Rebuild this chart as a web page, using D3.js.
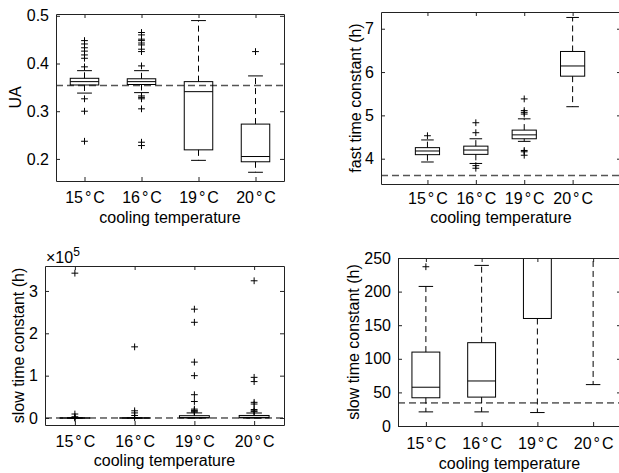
<!DOCTYPE html>
<html>
<head>
<meta charset="utf-8">
<script src="https://cdn.jsdelivr.net/npm/d3@7"></script>
<style>
  body { margin: 0; background: #fff; }
  svg { display: block; font-family: "Liberation Sans", Arial, sans-serif; }
</style>
</head>
<body>
<svg id="chart" width="619" height="473"></svg>
<script>
// categories shared by all four panels
const categories = ["15°C", "16°C", "19°C", "20°C"];

// UA
const uaLow    = [0.338, 0.339, 0.197, 0.172];
const uaQ1     = [0.355, 0.356, 0.219, 0.194];
const uaMedian = [0.362, 0.362, 0.341, 0.205];
const uaQ3     = [0.369, 0.368, 0.362, 0.273];
const uaHigh   = [0.385, 0.385, 0.490, 0.374];
const uaOutliers = [
  [0.448, 0.441, 0.433, 0.426, 0.418, 0.411, 0.393, 0.326, 0.300, 0.237],
  [0.465, 0.460, 0.451, 0.448, 0.443, 0.439, 0.430, 0.425, 0.395, 0.332, 0.329, 0.326, 0.305, 0.235, 0.228],
  [],
  [0.425]
];
const uaRef = 0.354;
const uaTicks = [0.2, 0.3, 0.4, 0.5];

// fast time constant (h)
const fastLow    = [3.924, 3.89, 4.40, 5.20];
const fastQ1     = [4.093, 4.10, 4.46, 5.905];
const fastMedian = [4.178, 4.20, 4.55, 6.14];
const fastQ3     = [4.255, 4.29, 4.66, 6.475];
const fastHigh   = [4.433, 4.46, 4.92, 7.26];
const fastOutliers = [
  [4.53],
  [4.83, 4.60, 3.84, 3.78],
  [5.38, 5.11, 5.07, 5.03, 4.19, 4.16, 4.08],
  []
];
const fastRef = 3.615;
const fastTicks = [4, 5, 6, 7];

// slow time constant (h), shown twice: full range and zoomed to 0-250
const slowLow    = [21, 21, 20, 61.6];
const slowQ1     = [42, 43, 160, 320];
const slowMedian = [57.7, 67, 900, 1500];
const slowQ3     = [110, 124, 5500, 6000];
const slowHigh   = [207.7, 239, 12000, 11800];
const slowOutliers = [
  [237, 500, 3000, 9400, 342000],
  [1000, 6000, 12000, 17000, 168000],
  [14000, 16000, 18000, 21000, 39000, 55000, 100000, 132000, 226000, 257000],
  [15000, 17000, 20000, 33000, 37000, 86000, 96000, 324000]
];
const slowRef = 34.3;
const slowTicksFull = [0, 100000, 200000, 300000];
const slowTicksZoom = [0, 50, 100, 150, 200, 250];

const svg = d3.select("#chart");
const fontSize = 16;
const tickLen = 4;

const panels = [
  { id: "ua", left: 56, right: 284, top: 14, bottom: 181,
    xDomain: [0.5, 4.5], yDomain: [0.1537, 0.5038],
    ticks: uaTicks, fmt: d3.format(".1f"), yLabel: "UA",
    lo: uaLow, q1: uaQ1, med: uaMedian, q3: uaQ3, hi: uaHigh, out: uaOutliers,
    ref: uaRef, refColor: "#555", refWidth: 1.5,
    tickBase: 203.3, labelBase: 223.3, yLabelX: 15.3 },
  { id: "fast", left: 381, right: 621, top: 12, bottom: 184,
    xDomain: [0.04, 5], yDomain: [3.416, 7.386],
    ticks: fastTicks, fmt: d3.format("d"), yLabel: "fast time constant (h)",
    lo: fastLow, q1: fastQ1, med: fastMedian, q3: fastQ3, hi: fastHigh, out: fastOutliers,
    ref: fastRef, refColor: "#555", refWidth: 1.5,
    tickBase: 204, labelBase: 223.3, yLabelX: 355.7 },
  { id: "slowfull", left: 45, right: 284, top: 266, bottom: 425,
    xDomain: [0.5, 4.5], yDomain: [-16500, 358900],
    ticks: slowTicksFull, fmt: d => d / 1e5, yLabel: "slow time constant (h)",
    lo: slowLow, q1: slowQ1, med: slowMedian, q3: slowQ3, hi: slowHigh, out: slowOutliers,
    ref: slowRef, refColor: "#000", refWidth: 1,
    tickBase: 446.7, labelBase: 466, yLabelX: 18.3, exponent: true },
  { id: "slowzoom", left: 398, right: 621, top: 258, bottom: 426,
    xDomain: [0.5, 4.5], yDomain: [0, 250],
    ticks: slowTicksZoom, fmt: d3.format("d"), yLabel: "slow time constant (h)",
    lo: slowLow, q1: slowQ1, med: slowMedian, q3: slowQ3, hi: slowHigh, out: slowOutliers,
    ref: slowRef, refColor: "#000", refWidth: 1,
    tickBase: 448.5, labelBase: 469, yLabelX: 353.3 }
];

function drawPanel(p) {
  const x = d3.scaleLinear().domain(p.xDomain).range([p.left, p.right]);
  const y = d3.scaleLinear().domain(p.yDomain).range([p.bottom, p.top]);
  const cats = d3.range(categories.length);

  svg.append("clipPath").attr("id", "clip-" + p.id)
    .append("rect")
    .attr("x", p.left).attr("y", p.top)
    .attr("width", p.right - p.left).attr("height", p.bottom - p.top);

  const g = svg.append("g").attr("clip-path", `url(#clip-${p.id})`);

  // reference line
  g.append("line")
    .attr("x1", p.left).attr("x2", p.right)
    .attr("y1", y(p.ref)).attr("y2", y(p.ref))
    .attr("stroke", p.refColor).attr("stroke-width", p.refWidth)
    .attr("stroke-dasharray", "7,4");

  const boxes = g.selectAll("g.box").data(cats).join("g").attr("class", "box")
    .attr("fill", "none").attr("stroke", "#000").attr("stroke-width", 1);

  // whiskers (dashed)
  boxes.append("line")
    .attr("x1", i => x(i + 1)).attr("x2", i => x(i + 1))
    .attr("y1", i => y(p.q3[i])).attr("y2", i => y(p.hi[i]))
    .attr("stroke-dasharray", "6,4");
  boxes.append("line")
    .attr("x1", i => x(i + 1)).attr("x2", i => x(i + 1))
    .attr("y1", i => y(p.q1[i])).attr("y2", i => y(p.lo[i]))
    .attr("stroke-dasharray", "6,4");

  // whisker caps
  [p.hi, p.lo].forEach(arr => {
    boxes.append("line")
      .attr("x1", i => x(i + 1 - 0.13)).attr("x2", i => x(i + 1 + 0.13))
      .attr("y1", i => y(arr[i])).attr("y2", i => y(arr[i]));
  });

  // box
  boxes.append("rect")
    .attr("x", i => x(i + 1 - 0.25))
    .attr("width", i => x(i + 1.25) - x(i + 0.75))
    .attr("y", i => y(p.q3[i]))
    .attr("height", i => Math.max(y(p.q1[i]) - y(p.q3[i]), 0.1));

  // median
  boxes.append("line")
    .attr("x1", i => x(i + 1 - 0.25)).attr("x2", i => x(i + 1 + 0.25))
    .attr("y1", i => y(p.med[i])).attr("y2", i => y(p.med[i]));

  // outliers as '+'
  const pts = cats.flatMap(i => p.out[i].map(v => [i + 1, v]));
  g.selectAll("path.out").data(pts).join("path").attr("class", "out")
    .attr("transform", d => `translate(${x(d[0])},${y(d[1])})`)
    .attr("d", "M-3.4,0H3.4M0,-3.4V3.4")
    .attr("stroke", "#000").attr("stroke-width", 1).attr("fill", "none");

  // axes with inward ticks on all four sides
  const ax = svg.append("g");
  const gb = ax.append("g").attr("transform", `translate(0,${p.bottom})`)
    .call(d3.axisBottom(x).tickValues([1, 2, 3, 4]).tickFormat(d => categories[d - 1])
      .tickSize(-tickLen).tickSizeOuter(0));
  ax.append("g").attr("transform", `translate(0,${p.top})`)
    .call(d3.axisTop(x).tickValues([1, 2, 3, 4]).tickFormat("")
      .tickSize(-tickLen).tickSizeOuter(0));
  ax.append("g").attr("transform", `translate(${p.left},0)`)
    .call(d3.axisLeft(y).tickValues(p.ticks).tickFormat(p.fmt)
      .tickSize(-tickLen).tickSizeOuter(0).tickPadding(7));
  ax.append("g").attr("transform", `translate(${p.right},0)`)
    .call(d3.axisRight(y).tickValues(p.ticks).tickFormat("")
      .tickSize(-tickLen).tickSizeOuter(0));

  ax.selectAll("g").attr("font-size", fontSize).attr("font-family", null);
  ax.selectAll("text").attr("fill", "#000");
  ax.selectAll("path.domain, .tick line").attr("stroke", "#222");

  // spaced degree sign like the original labels
  gb.selectAll(".tick text").each(function (d) {
    const t = d3.select(this).text("");
    const s = categories[d - 1];
    t.attr("y", p.tickBase - p.bottom).attr("dy", null);
    t.append("tspan").text(s.slice(0, 2));
    t.append("tspan").attr("dx", 2).text("°");
    t.append("tspan").attr("dx", 2).text("C");
  });

  svg.append("text")
    .attr("x", (p.left + p.right) / 2).attr("y", p.labelBase)
    .attr("text-anchor", "middle").attr("font-size", fontSize)
    .text("cooling temperature");

  svg.append("text")
    .attr("transform", `translate(${p.yLabelX},${(p.top + p.bottom) / 2}) rotate(-90)`)
    .attr("dy", "0.35em")
    .attr("text-anchor", "middle").attr("font-size", fontSize)
    .text(p.yLabel);

  if (p.exponent) {
    const e = svg.append("text")
      .attr("x", p.left + 1).attr("y", p.top - 3.5)
      .attr("font-size", 16);
    e.append("tspan").text("×10");
    e.append("tspan").attr("dy", -7).attr("font-size", 12).text("5");
  }
}

panels.forEach(drawPanel);
</script>
</body>
</html>
